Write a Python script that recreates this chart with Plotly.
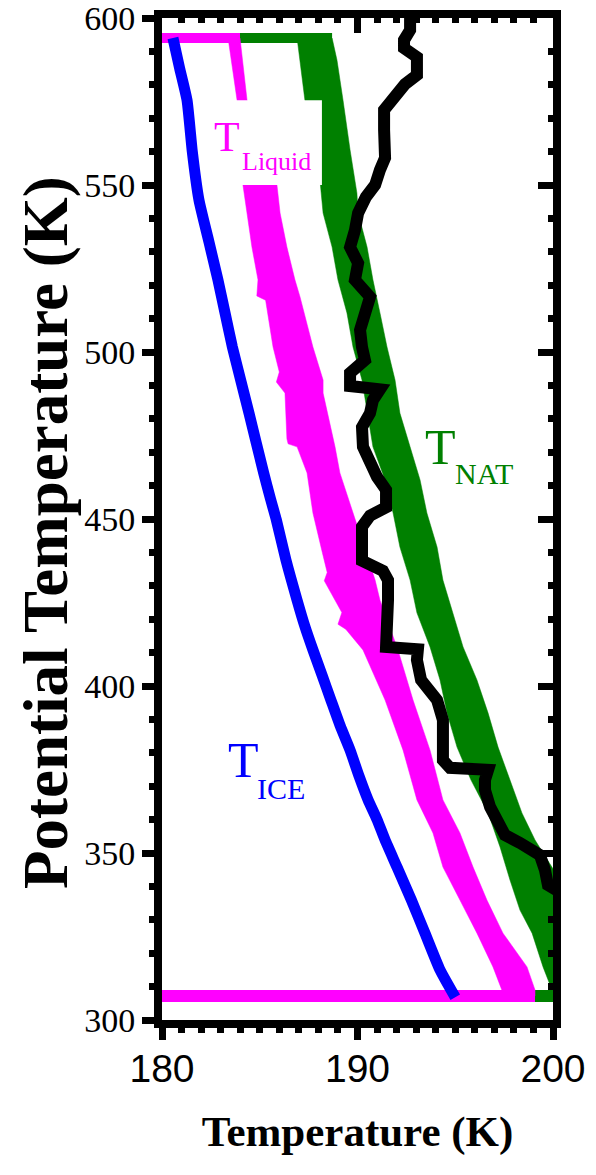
import plotly.graph_objects as go

# ---- data -------------------------------------------------------------
# Ice frost point profile (K) vs potential temperature (K)
ice_t = [180.56, 180.90, 181.28, 181.55, 181.89, 182.40, 182.86, 183.25, 183.60,
         184.05, 184.45, 185.20, 185.55, 185.85, 186.34, 186.91, 187.30, 187.72,
         188.20, 188.64, 189.12, 189.62, 190.08, 190.54, 191.00, 191.41, 192.02,
         192.75, 193.45, 194.22, 195.00]
ice_theta = [594.0, 585.0, 575.4, 560.0, 545.5, 533.0, 521.6, 511.0, 501.5,
             491.0, 481.7, 463.8, 456.0, 449.7, 437.7, 425.7, 418.0, 410.8,
             403.0, 395.8, 388.0, 380.8, 373.0, 365.9, 360.0, 353.9, 345.8,
             336.0, 326.0, 315.0, 306.8]

# Liquid (STS) existence temperature range: cold and warm edges
liq_cold_t = [183.38, 183.84, 184.14, 184.35, 184.60, 184.91, 184.85, 185.30, 185.68,
              186.00, 185.85, 186.29, 186.39, 186.45, 186.91, 187.42, 187.72, 188.20,
              188.45, 188.30, 188.85, 189.20, 189.00, 189.40, 190.28, 191.41, 192.33,
              193.04, 193.86, 194.37, 195.24, 196.11, 196.93, 197.50]
liq_cold_theta = [594.0, 575.4, 550.0, 541.6, 531.4, 521.6, 516.8, 515.5, 501.5,
                  494.0, 491.0, 487.7, 474.0, 472.5, 471.6, 463.8, 451.8, 440.0,
                  434.0, 431.5, 425.7, 422.0, 418.5, 417.0, 410.8, 395.8, 380.8,
                  365.9, 356.0, 345.8, 335.9, 326.0, 315.9, 307.2]
liq_warm_t = [183.99, 184.35, 185.88, 186.04, 186.39, 186.80, 187.06, 187.72, 188.24,
              188.24, 188.85, 189.10, 189.77, 190.90, 191.15, 192.07, 192.84, 193.71,
              194.37, 195.24, 195.91, 196.62, 197.44, 198.67, 199.08, 199.08]
liq_warm_theta = [594.0, 575.4, 550.0, 541.6, 531.4, 521.6, 516.5, 501.5, 491.6,
                  487.7, 471.6, 463.8, 451.8, 431.7, 425.7, 410.8, 395.8, 380.8,
                  365.9, 356.0, 345.8, 335.9, 326.0, 315.9, 309.0, 307.2]

# NAT existence temperature range: cold and warm edges
nat_cold_t = [186.91, 187.31, 188.08, 188.24, 188.70, 189.00, 189.46, 189.77, 190.23,
              190.49, 190.79, 191.41, 191.82, 192.17, 192.69, 193.04, 193.71, 194.22,
              194.58, 195.09, 195.80, 196.68, 197.29, 197.80, 198.31, 198.93, 199.49,
              199.85, 200.10]
nat_cold_theta = [594.0, 575.4, 551.5, 541.6, 531.4, 521.6, 511.7, 501.5, 491.6,
                  481.7, 471.6, 461.7, 451.8, 441.6, 431.7, 421.9, 411.7, 401.8,
                  391.9, 381.7, 371.9, 362.0, 351.8, 341.9, 332.9, 326.0, 315.9,
                  310.5, 307.2]
nat_warm_t = [188.70, 188.95, 189.26, 189.62, 189.97, 190.03, 190.49, 190.79, 191.15,
              191.51, 191.92, 192.17, 192.69, 193.20, 193.55, 194.07, 194.37, 194.88,
              195.40, 196.11, 196.68, 197.19, 197.80, 198.41, 199.08, 199.60, 200.36,
              201.50]
nat_warm_theta = [594.0, 587.4, 575.4, 560.5, 547.6, 541.6, 531.4, 521.6, 511.7,
                  501.5, 491.6, 481.7, 471.6, 461.7, 451.8, 441.6, 431.7, 421.9,
                  411.7, 401.8, 391.9, 381.7, 371.9, 362.0, 353.9, 349.0, 341.9,
                  307.2]

# Top and bottom limits of the computed ranges
range_top_theta = 594.0
range_bottom_theta = 307.2
liq_top_end_t = 183.99
nat_top_end_t = 188.70
liq_bottom_end_t = 199.08
nat_bottom_end_t = 200.0
t_axis_min = 180.0

# Observed temperature profile
obs_t = [192.69, 192.69, 192.38, 192.38, 193.04, 193.04, 192.43, 191.92, 191.36,
         191.36, 191.46, 191.41, 191.15, 190.90, 190.43, 190.03, 189.87, 189.62,
         190.03, 189.87, 190.64, 190.38, 190.13, 190.23, 190.38, 189.62, 189.62,
         191.15, 190.79, 190.64, 190.23, 190.28, 190.64, 191.00, 191.46, 191.46,
         190.64, 190.23, 190.23, 190.23, 191.30, 191.56, 191.56, 191.56, 191.46,
         193.09, 193.04, 193.25, 193.70, 194.07, 194.37, 194.37, 194.37, 194.73,
         196.68, 196.52, 196.52, 196.78, 197.14, 197.54, 198.31, 199.33, 199.59,
         199.74, 201.00]
obs_theta = [602.4, 596.4, 593.4, 591.0, 588.3, 582.9, 580.2, 576.9, 572.5,
             566.5, 562.0, 558.1, 554.5, 550.0, 546.4, 541.6, 536.5, 531.4,
             526.6, 521.6, 516.5, 511.7, 506.6, 501.5, 497.6, 493.7, 489.8,
             488.8, 485.6, 481.7, 477.5, 471.6, 466.8, 462.6, 458.7, 453.5,
             451.0, 447.7, 440.7, 437.5, 434.5, 431.7, 425.7, 416.8, 411.7,
             411.0, 407.8, 401.8, 398.8, 395.8, 389.8, 383.8, 377.8, 375.5,
             374.9, 371.9, 368.9, 363.8, 359.9, 355.4, 353.0, 349.4, 344.9,
             340.4, 336.0]

x_ticks = [180, 190, 200]
y_ticks = [300, 350, 400, 450, 500, 550, 600]

GREEN = "#008000"
MAGENTA = "#FF00FF"
BLUE = "#0000FF"
SERIF = "Liberation Serif, serif"
SANS = "Liberation Sans, sans-serif"


def band(cold_t, cold_th, warm_t, warm_th, color):
    return go.Scatter(
        x=cold_t + warm_t[::-1], y=cold_th + warm_th[::-1],
        mode="lines", fill="toself", fillcolor=color,
        line=dict(color=color, width=0.5), hoverinfo="skip", showlegend=False)


def hline(t0, t1, th, color, width):
    return go.Scatter(x=[t0, t1], y=[th, th], mode="lines",
                      line=dict(color=color, width=width),
                      hoverinfo="skip", showlegend=False)


fig = go.Figure()
fig.add_trace(hline(t_axis_min, nat_bottom_end_t, range_bottom_theta, GREEN, 12))
fig.add_trace(hline(t_axis_min, nat_top_end_t, range_top_theta, GREEN, 10))
fig.add_trace(band(nat_cold_t, nat_cold_theta, nat_warm_t, nat_warm_theta, GREEN))
fig.add_trace(band(liq_cold_t, liq_cold_theta, liq_warm_t, liq_warm_theta, MAGENTA))
fig.add_trace(hline(t_axis_min, liq_top_end_t, range_top_theta, MAGENTA, 10))
fig.add_trace(hline(t_axis_min, liq_bottom_end_t, range_bottom_theta, MAGENTA, 12))
fig.add_trace(go.Scatter(x=ice_t, y=ice_theta, mode="lines",
                         line=dict(color=BLUE, width=11, shape="spline",
                                   smoothing=0.5),
                         hoverinfo="skip", showlegend=False))
fig.add_trace(go.Scatter(x=obs_t, y=obs_theta, mode="lines",
                         line=dict(color="black", width=12),
                         hoverinfo="skip", showlegend=False))
# carrier for the mirrored (inside) tick axes on top and right
fig.add_trace(go.Scatter(x=[None], y=[None], xaxis="x2", yaxis="y2",
                         hoverinfo="skip", showlegend=False))

axis_common = dict(showgrid=False, zeroline=False, showline=True, linewidth=8,
                   linecolor="black", mirror=True, ticks="outside", ticklen=12,
                   tickwidth=7, tickcolor="black", automargin=False,
                   ticklabeloverflow="allow")

fig.update_layout(
    width=596, height=1175,
    margin=dict(l=162, r=43, t=18, b=155, autoexpand=False),
    paper_bgcolor="white", plot_bgcolor="white",
    showlegend=False,
    xaxis=dict(range=[180, 200], tickvals=x_ticks,
               ticktext=[str(v) for v in x_ticks],
               tickfont=dict(family=SANS, size=39, color="black"),
               ticklabelstandoff=-5,
               minor=dict(dtick=1, ticks="outside", ticklen=5, tickwidth=7,
                          tickcolor="black"),
               title=dict(text="Temperature (K)", standoff=30,
                          font=dict(family=SERIF, size=43, color="black",
                                    weight="bold")),
               **axis_common),
    yaxis=dict(range=[300, 600], tickvals=y_ticks,
               ticktext=[str(v) for v in y_ticks],
               tickfont=dict(family=SERIF, size=34, color="black"),
               minor=dict(dtick=10, ticks="outside", ticklen=5, tickwidth=7,
                          tickcolor="black"),
               **axis_common),
    xaxis2=dict(range=[180, 200], overlaying="x", side="top", anchor="y",
                tickvals=x_ticks, showticklabels=False, showgrid=False,
                zeroline=False, showline=False, ticks="inside", ticklen=15,
                tickwidth=7, tickcolor="black", automargin=False,
                minor=dict(dtick=1, ticks="inside", ticklen=5, tickwidth=7,
                           tickcolor="black")),
    yaxis2=dict(range=[300, 600], overlaying="y", side="right", anchor="x",
                tickvals=y_ticks, showticklabels=False, showgrid=False,
                zeroline=False, showline=False, ticks="inside", ticklen=15,
                tickwidth=7, tickcolor="black", automargin=False,
                minor=dict(dtick=10, ticks="inside", ticklen=5, tickwidth=7,
                           tickcolor="black")),
    shapes=[dict(type="rect", xref="x", yref="y", x0=182.3, x1=188.18,
                 y0=550.0, y1=575.4, fillcolor="white", line=dict(width=0),
                 layer="above")],
)

# vertical axis title
fig.add_annotation(xref="paper", yref="paper", x=0, y=0.5, xanchor="center",
                   yanchor="middle", xshift=-116, yshift=-14, textangle=-90,
                   text="Potential Temperature (K)", showarrow=False,
                   font=dict(family=SERIF, size=63, color="black", weight="bold"))


def label(x, y, text, size, color):
    fig.add_annotation(x=x, y=y, xref="x", yref="y", text=text, showarrow=False,
                       xanchor="left", yanchor="middle",
                       font=dict(family=SERIF, size=size, color=color))


label(182.55, 564.4, "T", 42, MAGENTA)
label(184.0, 557.0, "Liquid", 26, MAGENTA)
label(193.35, 471.6, "T", 50, GREEN)
label(194.9, 463.6, "NAT", 30, GREEN)
label(183.28, 377.8, "T", 50, BLUE)
label(184.78, 369.4, "ICE", 30, BLUE)

fig.write_html("out.html")
